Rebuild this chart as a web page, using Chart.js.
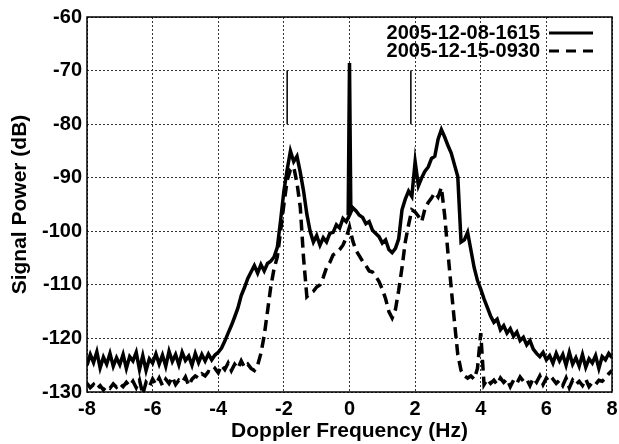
<!DOCTYPE html>
<html>
<head>
<meta charset="utf-8">
<script src="https://cdn.jsdelivr.net/npm/chart.js@4.4.0/dist/chart.umd.min.js"></script>
<style>
html,body{margin:0;padding:0;background:#fff;}
#c{display:block;}
</style>
</head>
<body>
<canvas id="c" width="619" height="444"></canvas>
<script>
const freqs = [
-8.0,-7.9,-7.8,-7.7,-7.6,-7.5,-7.4,-7.3,-7.2,-7.1,
-7.0,-6.9,-6.8,-6.7,-6.6,-6.5,-6.4,-6.3,-6.2,-6.1,
-6.0,-5.9,-5.8,-5.7,-5.6,-5.5,-5.4,-5.3,-5.2,-5.1,
-5.0,-4.9,-4.8,-4.7,-4.6,-4.5,-4.4,-4.3,-4.2,-4.1,
-4.0,-3.9,-3.8,-3.7,-3.6,-3.5,-3.4,-3.3,-3.2,-3.1,
-3.0,-2.9,-2.8,-2.7,-2.6,-2.5,-2.4,-2.3,-2.2,-2.1,
-2.0,-1.9,-1.8,-1.7,-1.6,-1.5,-1.4,-1.3,-1.2,-1.1,
-1.0,-0.9,-0.8,-0.7,-0.6,-0.5,-0.4,-0.3,-0.2,-0.1,
0.0,0.1,0.2,0.3,0.4,0.5,0.6,0.7,0.8,0.9,
1.0,1.1,1.2,1.3,1.4,1.5,1.6,1.7,1.8,1.9,
2.0,2.1,2.2,2.3,2.4,2.5,2.6,2.7,2.8,2.9,
3.0,3.1,3.2,3.3,3.4,3.5,3.6,3.7,3.8,3.9,
4.0,4.1,4.2,4.3,4.4,4.5,4.6,4.7,4.8,4.9,
5.0,5.1,5.2,5.3,5.4,5.5,5.6,5.7,5.8,5.9,
6.0,6.1,6.2,6.3,6.4,6.5,6.6,6.7,6.8,6.9,
7.0,7.1,7.2,7.3,7.4,7.5,7.6,7.7,7.8,7.9,
8.0
];

const power1615 = [
-125.0,-123.0,-124.5,-122.5,-125.5,-123.5,-124.8,-122.8,-125.2,-123.6,
-124.9,-123.0,-125.6,-123.4,-124.2,-122.6,-125.8,-123.2,-126.0,-123.8,
-124.6,-122.9,-124.8,-123.1,-125.2,-122.4,-124.3,-123.0,-124.9,-122.6,
-124.1,-123.3,-125.0,-122.8,-124.5,-123.0,-124.2,-122.9,-124.0,-123.1,
-122.6,-121.8,-120.5,-119.0,-117.6,-116.0,-114.3,-112.0,-110.5,-108.8,
-107.6,-106.4,-107.8,-106.2,-107.4,-106.0,-105.6,-104.8,-103.0,-98.0,
-92.5,-88.5,-85.0,-87.0,-86.0,-89.0,-92.5,-96.8,-100.0,-102.0,
-100.8,-102.6,-101.2,-102.0,-100.4,-100.2,-98.8,-99.4,-97.6,-98.2,
-97.0,-95.6,-96.2,-97.0,-97.4,-98.6,-98.2,-99.8,-100.4,-101.0,
-102.2,-101.6,-103.4,-104.0,-103.2,-101.4,-96.0,-94.0,-92.5,-93.5,
-87.0,-91.5,-90.0,-88.8,-88.0,-86.4,-86.0,-82.8,-81.0,-82.4,
-84.0,-85.4,-87.6,-89.8,-102.0,-101.6,-100.2,-103.5,-106.8,-109.2,
-110.8,-112.6,-114.2,-115.8,-117.0,-116.4,-118.4,-117.6,-119.0,-118.2,
-119.6,-118.8,-120.4,-119.8,-121.2,-120.4,-122.0,-122.8,-123.4,-122.6,
-124.0,-123.2,-124.6,-122.8,-124.2,-123.0,-125.0,-122.6,-124.8,-123.6,
-125.2,-123.0,-125.4,-123.8,-124.6,-123.2,-125.6,-123.4,-124.0,-122.8,
-123.6
];

const power0930 = [
-128.4,-129.2,-128.6,-129.4,-128.8,-129.6,-128.9,-129.3,-128.5,-129.1,
-128.4,-129.0,-128.2,-128.9,-128.0,-129.2,-127.8,-130.4,-128.2,-129.0,
-127.6,-128.6,-127.4,-128.8,-127.6,-128.4,-127.2,-128.6,-127.8,-128.2,
-127.2,-128.8,-127.6,-127.0,-127.4,-126.6,-127.0,-126.2,-126.4,-125.6,
-126.4,-125.0,-125.8,-124.6,-126.0,-124.8,-125.6,-124.2,-125.4,-124.8,
-125.6,-126.0,-125.0,-122.8,-119.5,-115.0,-110.4,-107.0,-104.8,-100.0,
-95.0,-90.5,-88.5,-88.0,-91.0,-95.5,-105.0,-112.2,-111.6,-111.2,
-110.4,-110.0,-108.6,-106.8,-105.8,-104.4,-104.0,-103.4,-102.6,-101.2,
-99.2,-101.8,-103.6,-104.6,-105.6,-106.4,-107.4,-107.6,-108.4,-109.4,
-110.8,-112.6,-115.0,-116.2,-114.6,-111.0,-106.8,-102.0,-98.8,-96.0,
-96.4,-97.2,-98.2,-95.8,-94.6,-93.8,-92.8,-93.6,-91.8,-97.0,
-104.0,-110.6,-117.0,-123.0,-126.0,-127.0,-127.4,-127.0,-127.6,-125.6,
-119.0,-128.6,-127.6,-128.4,-127.8,-128.6,-127.4,-128.2,-127.6,-129.0,
-127.8,-128.4,-127.2,-128.0,-127.6,-128.8,-127.4,-128.2,-127.0,-128.6,
-127.4,-128.2,-127.6,-128.4,-127.8,-128.8,-127.4,-129.2,-127.8,-128.6,
-128.0,-128.8,-127.6,-129.0,-128.2,-128.6,-127.8,-128.0,-127.4,-126.6,
-126.0
];

const spikeFreqs = [-0.04, 0.0, 0.04];
const spikePower = [-97.0, -68.6, -96.0];

const markerFreqs = [-1.9, 1.87];
const markerRange = [-70, -80];

const xTicks = [-8, -6, -4, -2, 0, 2, 4, 6, 8];
const yTicks = [-60, -70, -80, -90, -100, -110, -120, -130];

const seriesNames = ['2005-12-08-1615', '2005-12-15-0930'];
const xTitle = 'Doppler Frequency (Hz)';
const yTitle = 'Signal Power (dB)';

const FONT = "'Liberation Sans', Arial, Helvetica, sans-serif";

function pts(xs, ys) { return xs.map((x, i) => ({x: x, y: ys[i]})); }

const datasets = [
  {data: pts(freqs, power1615), borderColor: '#000', borderWidth: 3.5, pointRadius: 0, tension: 0, fill: false},
  {data: pts(spikeFreqs, spikePower), borderColor: '#000', borderWidth: 3.5, pointRadius: 0, tension: 0, fill: false},
  {data: pts(freqs, power0930), borderColor: '#000', borderWidth: 3.5, borderDash: [11, 6], pointRadius: 0, tension: 0, fill: false}
];
markerFreqs.forEach(f => {
  datasets.push({data: pts([f, f], markerRange), borderColor: '#000', borderWidth: 1.5, pointRadius: 0, fill: false});
});

const framePlugin = {
  id: 'frame',
  beforeDatasetsDraw(chart) {
    const {ctx, chartArea: a} = chart;
    ctx.save();
    ctx.strokeStyle = '#000';
    ctx.lineWidth = 1.5;
    ctx.strokeRect(a.left, a.top, a.right - a.left, a.bottom - a.top);
    ctx.restore();
  },
  afterDraw(chart) {
    const {ctx} = chart;
    ctx.save();
    ctx.font = 'bold 20px ' + FONT;
    ctx.fillStyle = '#000';
    ctx.textAlign = 'right';
    ctx.textBaseline = 'alphabetic';
    const textRight = 540, lineX1 = 549, lineX2 = 593;
    const rows = [39, 57];
    ctx.strokeStyle = '#000';
    ctx.lineWidth = 3;
    seriesNames.forEach((name, i) => {
      ctx.fillText(name, textRight, rows[i]);
      ctx.beginPath();
      ctx.setLineDash(i === 0 ? [] : [10, 7]);
      ctx.moveTo(lineX1, rows[i] - 6);
      ctx.lineTo(lineX2, rows[i] - 6);
      ctx.stroke();
    });
    ctx.restore();
  }
};

new Chart(document.getElementById('c'), {
  type: 'line',
  data: {datasets: datasets},
  options: {
    responsive: false,
    animation: false,
    devicePixelRatio: 1,
    layout: {padding: {top: 16, right: 7, left: 0, bottom: 0}},
    plugins: {legend: {display: false}, tooltip: {enabled: false}},
    scales: {
      x: {
        type: 'linear', min: -8, max: 8,
        afterBuildTicks: s => { s.ticks = xTicks.map(v => ({value: v})); },
        afterFit: s => { s.height = 52; s.paddingRight = 0; },
        grid: {color: '#333', lineWidth: 1, drawTicks: false},
        border: {display: false, dash: [2, 2]},
        ticks: {color: '#000', font: {family: FONT, size: 20, weight: 'bold'}, padding: 5, maxRotation: 0},
        title: {display: true, text: xTitle, color: '#000', font: {family: FONT, size: 21, weight: 'bold'}, padding: {top: 0, bottom: 0}}
      },
      y: {
        type: 'linear', min: -130, max: -60,
        afterBuildTicks: s => { s.ticks = yTicks.map(v => ({value: v})); },
        afterFit: s => { s.width = 87; },
        grid: {color: '#333', lineWidth: 1, drawTicks: false},
        border: {display: false, dash: [2, 2]},
        ticks: {color: '#000', font: {family: FONT, size: 20, weight: 'bold'}, padding: 5},
        title: {display: true, text: yTitle, color: '#000', font: {family: FONT, size: 21, weight: 'bold'}, padding: {top: 8, bottom: 0}}
      }
    }
  },
  plugins: [framePlugin]
});
</script>
</body>
</html>
